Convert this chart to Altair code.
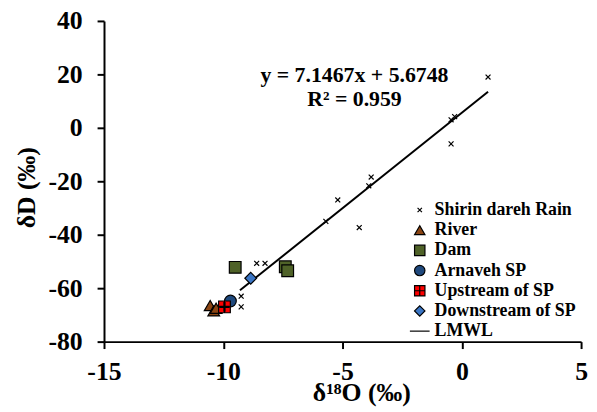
import altair as alt
import pandas as pd

# ---- data ----
series_names = ["Shirin dareh Rain", "River", "Dam", "Arnaveh SP",
                "Upstream of SP", "Downstream of SP", "LMWL"]

rain_x = [1.1, -0.3, -0.45, -0.45, -3.8, -3.9, -5.2, -5.7, -4.3, -8.6, -8.25, -9.25, -9.25]
rain_y = [19.0, 4.2, 3.0, -6.0, -18.4, -21.7, -27.0, -35.0, -37.3, -50.7, -50.7, -63.0, -67.0]

river_x = [-10.55, -10.4, -10.3]
river_y = [-66.5, -68.5, -67.5]

dam_x = [-9.5, -7.4, -7.3]
dam_y = [-52.2, -52.0, -53.5]

arnaveh_x = [-9.7]
arnaveh_y = [-64.8]

upstream_x = [-9.95]
upstream_y = [-67.0]

downstream_x = [-8.85]
downstream_y = [-56.3]

# LMWL regression (from the equation shown on the chart)
slope = 7.1467
intercept = 5.6748
lmwl_x = [-9.3, 1.1]

eq_text = ["y = 7.1467x + 5.6748", "R² = 0.959"]
eq_x = [-4.5, -4.5]
eq_y = [19.9, 10.6]

x_ticks = [-15, -10, -5, 0, 5]
y_ticks = [-80, -60, -40, -20, 0, 20, 40]

# ---- tables ----
rows = []
for name, xs, ys in [
    ("Shirin dareh Rain", rain_x, rain_y),
    ("River", river_x, river_y),
    ("Dam", dam_x, dam_y),
    ("Arnaveh SP", arnaveh_x, arnaveh_y),
    ("Upstream of SP", upstream_x, upstream_y),
    ("Downstream of SP", downstream_x, downstream_y),
]:
    for a, b in zip(xs, ys):
        rows.append({"series": name, "x": a, "y": b})
pts = pd.DataFrame(rows)
up_df = pd.DataFrame({"x": upstream_x, "y": upstream_y})
line_df = pd.DataFrame({"x": lmwl_x})
eq_df = pd.DataFrame({"t": eq_text, "x": eq_x, "y": eq_y})

FONT = "Liberation Serif"

shapes = [
    "M-0.42,-0.42L0.42,0.42M-0.42,0.42L0.42,-0.42",
    "triangle-up",
    "square",
    "circle",
    "M-1,-1H1V1H-1Z M0,-0.9V0.9 M-0.9,0H0.9",
    "diamond",
    "M-1.9,0H1.9",
]
fills = ["black", "#8B4513", "#4F6228", "#1F497D", "#FF0000", "#3A75C4", "black"]
strokes = ["black"] * 7

xscale = alt.Scale(domain=[-15, 5], nice=False, zero=False)
yscale = alt.Scale(domain=[-80, 40], nice=False, zero=False)

lab = dict(labelFont=FONT, labelFontSize=26, labelFontWeight="bold", labelColor="black",
           titleFont=FONT, titleFontSize=26, titleFontWeight="bold", titleColor="black",
           labelFlush=False, labelOverlap=False, labelExpr="'' + datum.value")

xaxis = alt.Axis(values=x_ticks, title="δ¹⁸O (‰)", titleX=260, titleY=51,
                 titleBaseline="middle", titleAlign="center", labelPadding=10, **lab)
yaxis = alt.Axis(values=y_ticks, title="δD (‰)", titleX=-78, titleY=168,
                 titleAngle=270, titleBaseline="middle", titleAlign="center",
                 labelPadding=15, **lab)

X = alt.X("x:Q", scale=xscale, axis=xaxis)
Y = alt.Y("y:Q", scale=yscale, axis=yaxis)

leg = alt.Legend(title=None, symbolStrokeColor="black", symbolStrokeWidth=1.2,
                 symbolOpacity=1)

points = alt.Chart(pts).mark_point(filled=True, size=140, strokeWidth=1.2,
                                    opacity=1).encode(
    x=X, y=Y,
    shape=alt.Shape("series:N", scale=alt.Scale(domain=series_names, range=shapes),
                    legend=leg),
    fill=alt.Fill("series:N", scale=alt.Scale(domain=series_names, range=fills),
                  legend=leg),
    stroke=alt.Stroke("series:N", scale=alt.Scale(domain=series_names, range=strokes),
                      legend=leg),
)

cross = alt.Chart(up_df).mark_point(
    shape="M0,-0.85V0.85M-0.85,0H0.85", size=140, filled=False,
    stroke="black", strokeWidth=2.2, opacity=1,
).encode(x=X, y=Y)

line = alt.Chart(line_df).transform_calculate(
    y=f"{slope} * datum.x + {intercept}"
).mark_line(color="black", strokeWidth=2).encode(x=X, y=Y)

eq = alt.Chart(eq_df).mark_text(font=FONT, fontSize=22, fontWeight="bold",
                                 color="black", align="center", baseline="middle").encode(
    x=X, y=Y, text="t:N",
)

chart = alt.layer(line, points, cross, eq).properties(
    width=482, height=324,
    autosize=alt.AutoSizeParams(type="none"),
    padding={"left": 97, "top": 11, "right": 8, "bottom": 66},
).configure_view(stroke=None).configure_axis(
    grid=False,
    domainColor="black", domainWidth=2,
    tickColor="black", tickWidth=2, tickSize=7,
    labelFont=FONT, labelFontSize=26, labelFontWeight="bold", labelColor="black",
    titleFont=FONT, titleFontSize=26, titleFontWeight="bold", titleColor="black",
).configure_legend(
    orient="none", legendX=310, legendY=182, padding=0,
    labelFont=FONT, labelFontSize=18, labelFontWeight="bold", labelColor="black",
    symbolSize=110, rowPadding=2.4, labelOffset=6,
)

chart.save("out.html", embed_options={"renderer": "svg", "actions": False})
